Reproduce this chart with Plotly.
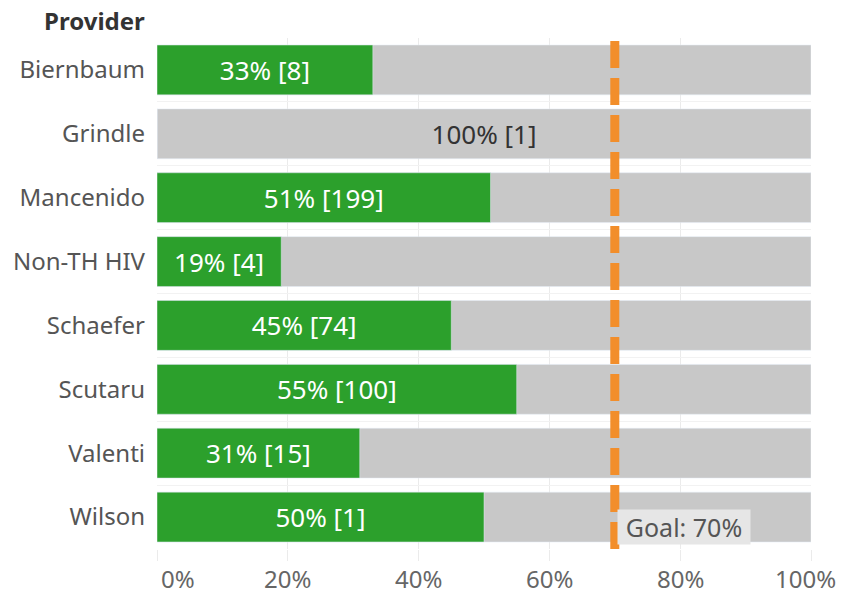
import plotly.graph_objects as go

providers = ["Biernbaum", "Grindle", "Mancenido", "Non-TH HIV", "Schaefer", "Scutaru", "Valenti", "Wilson"]
green_pct = [33, 0, 51, 19, 45, 55, 31, 50]
label_pct = [33, 100, 51, 19, 45, 55, 31, 50]
counts = [8, 1, 199, 4, 74, 100, 15, 1]
total_pct = [100, 100, 100, 100, 100, 100, 100, 100]
goal = 70
x_ticks = [0, 20, 40, 60, 80, 100]

FONT = "Noto Sans"
labels = [f"{p}% [{c}]" for p, c in zip(label_pct, counts)]
green_text = [t if g > 0 else "" for t, g in zip(labels, green_pct)]
grey_text = [t if g == 0 else "" for t, g in zip(labels, green_pct)]

fig = go.Figure()
fig.add_trace(go.Bar(
    y=providers, x=total_pct, orientation="h", marker_color="#c8c8c8",
    width=0.78, text=grey_text, textposition="inside", insidetextanchor="middle",
    textfont=dict(family=FONT, size=26, color="#333333"), hoverinfo="skip",
))
fig.add_trace(go.Bar(
    y=providers, x=green_pct, orientation="h", marker_color="#2ca02c",
    width=0.78, text=green_text, textposition="inside", insidetextanchor="middle",
    textfont=dict(family=FONT, size=26, color="#ffffff"), hoverinfo="skip",
))

fig.add_shape(type="line", x0=goal, x1=goal, xref="x", yref="paper", y0=0, y1=1.002,
              line=dict(color="#f28e2b", width=9, dash="27px,10px"), layer="above")
fig.add_annotation(x=goal, y=providers[-1], xref="x", yref="y", text=f"Goal: {goal}%",
                   xanchor="left", yanchor="middle", yshift=-10, xshift=2, showarrow=False,
                   bgcolor="#e6e6e6", font=dict(family=FONT, size=25, color="#555555"),
                   borderpad=2, width=128, align="center", height=30)
fig.add_annotation(x=0, xref="paper", xanchor="right", xshift=-10, y=1, yref="paper",
                   yanchor="middle", yshift=18, text="<b>Provider</b>", showarrow=False,
                   font=dict(family=FONT, size=24, color="#333333"))

# x tick labels (edge labels nudged inward as in the reference)
for v in x_ticks:
    anchor, shift = "center", 0
    if v == x_ticks[0]:
        anchor, shift = "left", 3
    elif v == x_ticks[-1]:
        shift = -6
    fig.add_annotation(x=v, xref="x", y=0, yref="paper", yanchor="middle", yshift=-29,
                       xanchor=anchor, xshift=shift, text=f"{v}%", showarrow=False,
                       font=dict(family=FONT, size=24, color="#666666"), borderpad=0)

fig.update_layout(
    width=843, height=595, barmode="overlay", showlegend=False,
    plot_bgcolor="white", paper_bgcolor="white",
    margin=dict(l=157, r=32, t=38, b=46),
    font=dict(family=FONT, size=24, color="#555555"),
)
fig.update_xaxes(range=[0, 100], tickvals=x_ticks, showticklabels=False,
                 showgrid=True, gridcolor="#ebebeb", gridwidth=1, zeroline=False,
                 ticks="outside", ticklen=11, tickcolor="#ebebeb", showline=False,
                 automargin=False)
fig.update_yaxes(autorange="reversed", tickson="boundaries", showgrid=True,
                 gridcolor="#f2f2f2", ticks="", ticklabelstandoff=11,
                 tickfont=dict(family=FONT, size=24, color="#555555"), showline=False,
                 automargin=False)

fig.write_html("out.html", config={"displayModeBar": False},
               post_script="document.body.style.margin='0';")
